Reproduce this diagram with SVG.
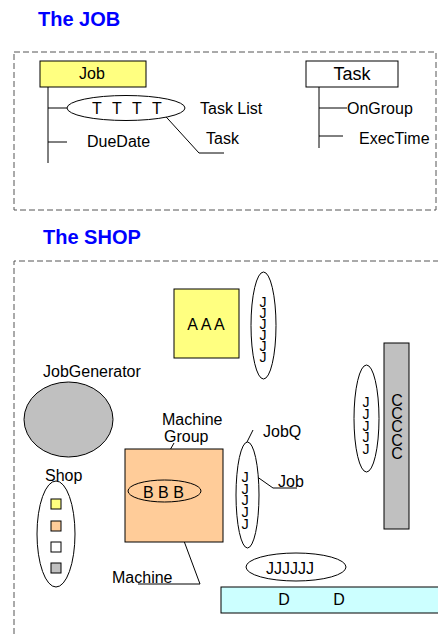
<svg xmlns="http://www.w3.org/2000/svg" width="438" height="634" viewBox="0 0 438 634">
<style>
text{font-family:"Liberation Sans",Arial,sans-serif;font-size:16px;fill:#000}
.title{font-weight:bold;font-size:20px;fill:#0000ff}
.dash{fill:none;stroke:#555;stroke-width:1;stroke-dasharray:6,3}
.s{stroke:#000;stroke-width:1}
.ln{fill:none;stroke:#000;stroke-width:1}
.c{text-anchor:middle}
.v{writing-mode:vertical-rl;text-orientation:upright}
.yel{fill:#ffff80}
.org{fill:#ffcc99}
.gry{fill:#c0c0c0}
.wht{fill:#fff}
.cyn{fill:#ccffff}
</style>
<rect width="438" height="634" fill="#fff"/>
<g id="titles">
<text class="title" x="38" y="26">The JOB</text>
<text class="title" x="43" y="244">The SHOP</text>
</g>
<g id="frames">
<rect class="dash" x="14" y="52" width="422" height="158"/>
<path class="dash" d="M14,634 V261 H438"/>
</g>
<g id="connectors">
<path class="ln" d="M48,87 V163 M48,108 H67 M48,142 H67"/>
<path class="ln" d="M158,108 L199,153 H224"/>
<path class="ln" d="M319,87 V148 M319,108 H347 M319,136 H343"/>
<path class="ln" d="M153,480 L174,443"/>
<path class="ln" d="M165,490 L200,584 H138"/>
<path class="ln" d="M247,442 L253,430"/>
<path class="ln" d="M246,469 L273,488 H297"/>
</g>
<g id="job">
<rect class="s yel" x="40" y="61" width="106" height="26"/>
<text class="c" x="92" y="79">Job</text>
</g>
<g id="tasklist">
<ellipse class="s wht" cx="126" cy="108" rx="59" ry="12.5"/>
<text x="92" y="114">T<tspan x="112">T</tspan><tspan x="132">T</tspan><tspan x="152">T</tspan></text>
<text x="200" y="114">Task List</text>
</g>
<g id="duedate"><text x="87" y="147">DueDate</text></g>
<g id="tasklabel"><text x="206" y="144">Task</text></g>
<g id="task">
<rect class="s wht" x="306" y="61" width="92" height="26"/>
<text class="c" x="352" y="80" style="font-size:18px">Task</text>
</g>
<g id="ongroup"><text x="347" y="114">OnGroup</text></g>
<g id="exectime"><text x="359" y="144">ExecTime</text></g>
<g id="aaa">
<rect class="s yel" x="174" y="289" width="65" height="69"/>
<text class="c" x="206" y="330">A A A</text>
</g>
<g id="jq1">
<ellipse class="s wht" cx="263.5" cy="325.5" rx="12.5" ry="53.5"/>
<text class="v" x="263" y="294.4" style="font-size:14px;letter-spacing:-5px">JJJJJJ</text>
</g>
<g id="jobgenerator">
<text x="43" y="377">JobGenerator</text>
<ellipse class="s gry" cx="68.5" cy="419.5" rx="44.5" ry="37.5"/>
</g>
<g id="shop">
<text x="45" y="481">Shop</text>
<ellipse class="s wht" cx="56" cy="534" rx="19" ry="53"/>
<rect class="s yel" x="51" y="499" width="10" height="10"/>
<rect class="s org" x="51" y="521" width="10" height="10"/>
<rect class="s wht" x="51" y="542" width="10" height="10"/>
<rect class="s gry" x="51" y="563" width="10" height="10"/>
</g>
<g id="machinegroup">
<rect class="s org" x="125" y="449" width="98" height="93"/>
<ellipse class="s org" cx="164.5" cy="491" rx="36.5" ry="11"/>
<text x="143" y="498">B B B</text>
<text x="162" y="425">Machine</text>
<text x="164" y="441.5">Group</text>
</g>
<g id="machine"><text x="112" y="583">Machine</text></g>
<g id="jobq">
<ellipse class="s wht" cx="247.5" cy="495" rx="11.5" ry="53"/>
<text class="v" x="245" y="469.3" style="font-size:14.5px;letter-spacing:-4.4px">JJJJJ</text>
<text x="263" y="437">JobQ</text>
<text x="278" y="487">Job</text>
</g>
<g id="jq2">
<ellipse class="s wht" cx="366.5" cy="418.5" rx="12.5" ry="53.5"/>
<text class="v" x="366" y="394.4" style="font-size:14px;letter-spacing:-4.3px">JJJJJ</text>
</g>
<g id="ccc">
<rect class="s gry" x="384" y="343" width="25" height="186"/>
<text class="v" x="397" y="392" style="letter-spacing:-3.8px">CCCCC</text>
</g>
<g id="jjjjjj">
<ellipse class="s wht" cx="296" cy="567" rx="50" ry="14"/>
<text class="c" x="290" y="574">JJJJJJ</text>
</g>
<g id="ddd">
<rect class="s cyn" x="221" y="587" width="230" height="26"/>
<text class="c" x="284" y="605">D</text>
<text class="c" x="339" y="605">D</text>
</g>
</svg>
